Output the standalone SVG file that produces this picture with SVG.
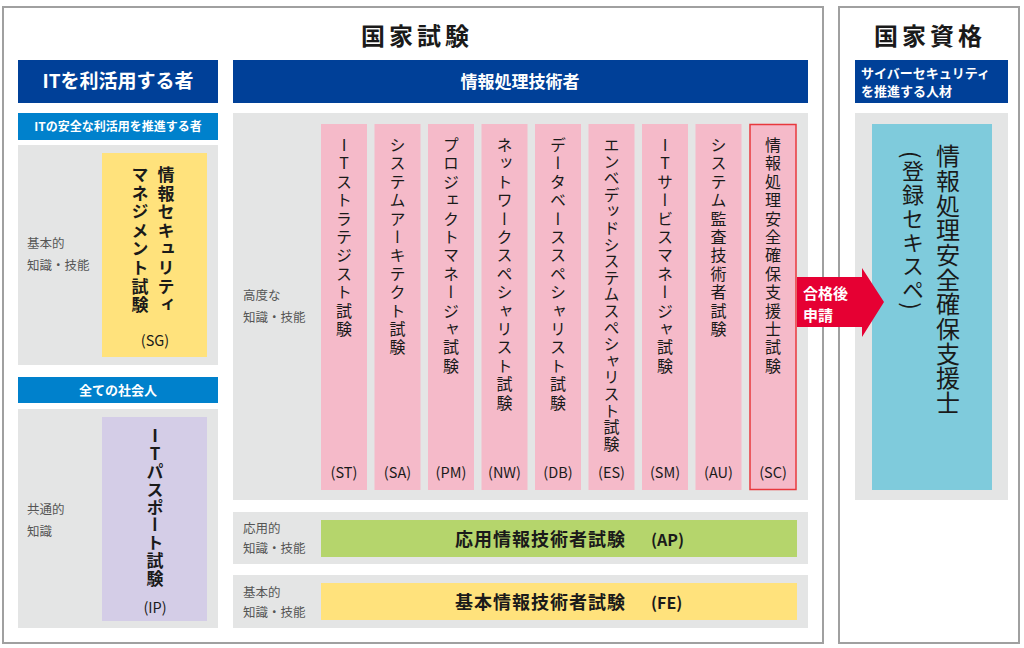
<svg xmlns="http://www.w3.org/2000/svg" width="1024" height="648" viewBox="0 0 1024 648">
<style>
text{font-family:"Noto Sans CJK JP","Noto Sans",sans-serif;fill:#1a1a1a}
.frame{fill:#fff;stroke:#a0a0a0;stroke-width:2}
.hdr{fill:#004098}
.sub{fill:#0081cc}
.panel{fill:#e4e5e5}
.pink{fill:#f5bac9}
.w{fill:#fff;font-weight:bold}
.lbl{font-size:12.5px;fill:#555}
.vt{writing-mode:vertical-rl;text-orientation:upright;font-size:16px;letter-spacing:2.4px}
.code{font-size:14.5px;text-anchor:middle}
.title{font-size:24px;font-weight:bold;text-anchor:middle;letter-spacing:4px}
.bar{font-size:18px;font-weight:bold;letter-spacing:1px}
</style>
<rect width="1024" height="648" fill="#fff"/>

<g id="frame-exam">
<rect class="frame" x="3" y="7" width="820" height="636"/>
<text class="title" x="417" y="45">国家試験</text>
</g>
<g id="frame-qual">
<rect class="frame" x="839" y="7" width="180" height="636"/>
<text class="title" x="930" y="45">国家資格</text>
</g>

<g id="users-header">
<rect class="hdr" x="18" y="60" width="200" height="43"/>
<text class="w" x="118" y="88" font-size="19" text-anchor="middle">ITを利活用する者</text>
</g>

<g id="sg-group">
<rect class="sub" x="18" y="113" width="200" height="27"/>
<text class="w" x="118" y="131" font-size="12" text-anchor="middle">ITの安全な利活用を推進する者</text>
<rect class="panel" x="18" y="145" width="200" height="220"/>
<text class="lbl" x="27" y="248">基本的</text>
<text class="lbl" x="27" y="270">知識・技能</text>
</g>
<g id="node-sg">
<rect x="102" y="153" width="105" height="204" fill="#ffe27c"/>
<text class="vt" x="166" y="166" font-weight="bold" style="font-size:17px;letter-spacing:1.6px">情報セキュリティ</text>
<text class="vt" x="140" y="166" font-weight="bold" style="font-size:17px;letter-spacing:1.6px">マネジメント試験</text>
<text class="code" x="155" y="346" font-size="16">(SG)</text>
</g>

<g id="ip-group">
<rect class="sub" x="18" y="377" width="200" height="26"/>
<text class="w" x="118" y="395" font-size="13" text-anchor="middle">全ての社会人</text>
<rect class="panel" x="18" y="409" width="200" height="219"/>
<text class="lbl" x="27" y="514">共通的</text>
<text class="lbl" x="27" y="536">知識</text>
</g>
<g id="node-ip">
<rect x="102" y="417" width="105" height="204" fill="#d4cde7"/>
<text class="vt" x="155" y="427" font-weight="bold" style="font-size:17px;letter-spacing:0.9px">ITパスポート試験</text>
<text class="code" x="155" y="613" font-size="16">(IP)</text>
</g>

<g id="engineers-header">
<rect class="hdr" x="233" y="60" width="575" height="43"/>
<text class="w" x="520" y="88" font-size="17" text-anchor="middle">情報処理技術者</text>
</g>
<g id="advanced-panel">
<rect class="panel" x="233" y="113" width="575" height="387"/>
<text class="lbl" x="243" y="300">高度な</text>
<text class="lbl" x="243" y="322">知識・技能</text>
</g>

<g id="node-st"><rect class="pink" x="321" y="124" width="46" height="366"/><text class="vt" x="344" y="137">ITストラテジスト試験</text><text class="code" x="344" y="478">(ST)</text></g>
<g id="node-sa"><rect class="pink" x="374.5" y="124" width="46" height="366"/><text class="vt" x="397.5" y="137">システムアーキテクト試験</text><text class="code" x="397.5" y="478">(SA)</text></g>
<g id="node-pm"><rect class="pink" x="428" y="124" width="46" height="366"/><text class="vt" x="451" y="137">プロジェクトマネージャ試験</text><text class="code" x="451" y="478">(PM)</text></g>
<g id="node-nw"><rect class="pink" x="481.5" y="124" width="46" height="366"/><text class="vt" x="504.5" y="137">ネットワークスペシャリスト試験</text><text class="code" x="504.5" y="478">(NW)</text></g>
<g id="node-db"><rect class="pink" x="535" y="124" width="46" height="366"/><text class="vt" x="558" y="137">データベーススペシャリスト試験</text><text class="code" x="558" y="478">(DB)</text></g>
<g id="node-es"><rect class="pink" x="588.5" y="124" width="46" height="366"/><text class="vt" x="611.5" y="137" style="letter-spacing:0.6px">エンベデッドシステムスペシャリスト試験</text><text class="code" x="611.5" y="478">(ES)</text></g>
<g id="node-sm"><rect class="pink" x="642" y="124" width="46" height="366"/><text class="vt" x="665" y="137">ITサービスマネージャ試験</text><text class="code" x="665" y="478">(SM)</text></g>
<g id="node-au"><rect class="pink" x="695.5" y="124" width="46" height="366"/><text class="vt" x="718.5" y="137">システム監査技術者試験</text><text class="code" x="718.5" y="478">(AU)</text></g>
<g id="node-sc"><rect class="pink" x="750" y="124.5" width="46" height="365" stroke="#e8383d" stroke-width="1.5"/><text class="vt" x="773" y="137">情報処理安全確保支援士試験</text><text class="code" x="773" y="478">(SC)</text></g>

<g id="node-ap">
<rect class="panel" x="233" y="512" width="575" height="52"/>
<text class="lbl" x="243" y="533">応用的</text>
<text class="lbl" x="243" y="553">知識・技能</text>
<rect x="321" y="520" width="476" height="37" fill="#b5d56c"/>
<text class="bar" x="455" y="546">応用情報技術者試験</text>
<text x="651" y="546" font-size="16" font-weight="bold">(AP)</text>
</g>
<g id="node-fe">
<rect class="panel" x="233" y="575" width="575" height="53"/>
<text class="lbl" x="243" y="597">基本的</text>
<text class="lbl" x="243" y="617">知識・技能</text>
<rect x="321" y="583" width="476" height="37" fill="#ffe27c"/>
<text class="bar" x="455" y="609">基本情報技術者試験</text>
<text x="651" y="609" font-size="16" font-weight="bold">(FE)</text>
</g>

<g id="qual-header">
<rect class="hdr" x="855" y="60" width="153" height="43"/>
<text class="w" x="861" y="78" font-size="13">サイバーセキュリティ</text>
<text class="w" x="861" y="96" font-size="13">を推進する人材</text>
</g>
<g id="node-riss">
<rect class="panel" x="855" y="113" width="153" height="387"/>
<rect x="872" y="124" width="120" height="366" fill="#7fcbdc"/>
<text x="948" y="144" style="writing-mode:vertical-rl;font-size:24px;letter-spacing:0.7px">情報処理安全確保支援士</text>
<text x="913" y="151" style="writing-mode:vertical-rl;font-size:22px;letter-spacing:1.7px">(登録セキスペ)</text>
</g>

<g id="connectors">
<path d="M797,277 H862 V268 L884,302 L862,337 V327 H797 Z" fill="#e60033"/>
<text class="w" x="803" y="299" font-size="15">合格後</text>
<text class="w" x="803" y="321" font-size="15">申請</text>
</g>
</svg>
